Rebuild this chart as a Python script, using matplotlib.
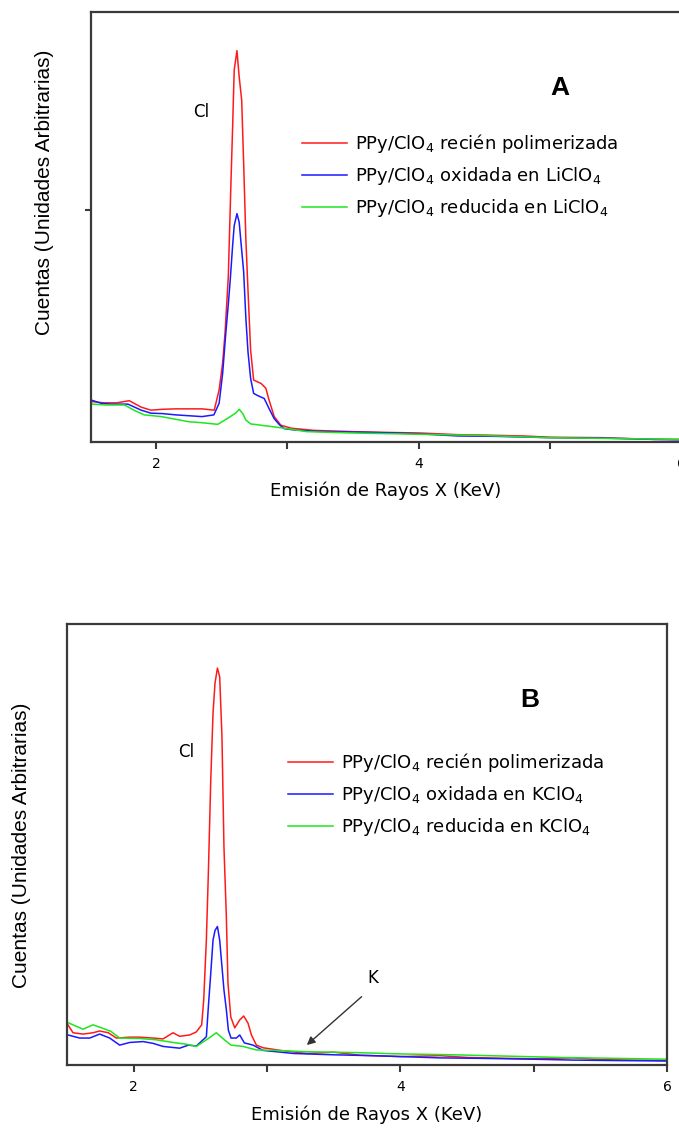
import matplotlib
matplotlib.use("Agg")
import matplotlib.pyplot as plt

# ---- panel A: LiClO4 ----
ev_a_red = [1.51, 1.60, 1.70, 1.795, 1.886, 1.96, 2.05, 2.15, 2.25, 2.35, 2.443, 2.48, 2.507, 2.525,
            2.55, 2.57, 2.583, 2.595, 2.616, 2.633, 2.652, 2.667, 2.684, 2.70, 2.72, 2.743, 2.80,
            2.836, 2.86, 2.90, 2.95, 3.03, 3.20, 3.50, 3.80, 4.00, 4.30, 4.50, 4.80, 5.00, 5.40, 5.80, 6.00]
red_a = [9.3, 9.0, 9.0, 9.5, 8.0, 7.3, 7.5, 7.6, 7.6, 7.6, 7.3, 12.0, 18.3, 25.2,
         38.3, 60.0, 73.2, 86.4, 90.9, 84.8, 79.4, 64.7, 46.9, 35.2, 21.3, 14.3, 13.5,
         12.4, 9.7, 5.8, 3.8, 3.1, 2.6, 2.3, 2.1, 2.0, 1.6, 1.5, 1.3, 1.0, 0.9, 0.5, 0.5]

ev_a_blue = [1.51, 1.58, 1.66, 1.785, 1.886, 1.96, 2.05, 2.15, 2.25, 2.35, 2.44, 2.48, 2.507, 2.53,
             2.55, 2.565, 2.583, 2.595, 2.616, 2.633, 2.646, 2.667, 2.684, 2.70, 2.72, 2.743, 2.773,
             2.824, 2.86, 2.90, 2.94, 2.976, 3.05, 3.20, 3.50, 3.80, 4.00, 4.30, 4.60, 5.00, 5.40, 5.80, 6.00]
blue_a = [9.6, 8.9, 8.7, 8.7, 7.3, 6.6, 6.5, 6.2, 6.0, 5.8, 6.2, 8.9, 15.9, 24.9,
          31.9, 37.7, 45.6, 50.2, 53.0, 51.0, 46.5, 39.5, 28.6, 20.9, 14.7, 11.2, 10.7,
          10.0, 7.7, 5.3, 3.9, 3.0, 2.7, 2.4, 2.2, 2.0, 1.8, 1.3, 1.2, 0.9, 0.8, 0.5, 0.4]

ev_a_green = [1.51, 1.62, 1.76, 1.83, 1.91, 2.04, 2.11, 2.25, 2.34, 2.47, 2.545, 2.61, 2.633, 2.66,
              2.684, 2.72, 2.85, 2.976, 3.15, 3.48, 4.00, 4.50, 5.00, 5.50, 6.00]
green_a = [8.7, 8.5, 8.5, 7.3, 6.2, 5.8, 5.4, 4.6, 4.4, 4.0, 5.4, 6.7, 7.5, 6.5,
           5.0, 4.1, 3.6, 3.1, 2.3, 2.0, 1.7, 1.4, 0.9, 0.7, 0.5]

# ---- panel B: KClO4 ----
ev_b_red = [1.507, 1.545, 1.62, 1.695, 1.745, 1.81, 1.87, 1.97, 2.045, 2.145, 2.22, 2.295, 2.345, 2.42,
            2.47, 2.51, 2.525, 2.545, 2.56, 2.578, 2.595, 2.61, 2.628, 2.645, 2.662, 2.677, 2.695,
            2.707, 2.728, 2.758, 2.795, 2.825, 2.857, 2.883, 2.92, 2.97, 3.10, 3.30, 3.50, 3.70,
            4.00, 4.30, 4.50, 4.80, 5.00, 5.30, 5.50, 6.00]
red_b = [9.1, 7.3, 7.0, 7.3, 7.7, 7.3, 6.1, 6.3, 6.3, 6.1, 5.9, 7.3, 6.5, 6.8,
         7.5, 9.1, 14.7, 28.3, 43.5, 64.6, 79.8, 86.6, 90.0, 88.0, 74.4, 49.4, 33.6,
         18.6, 10.9, 8.4, 10.2, 11.1, 9.5, 6.8, 4.5, 3.9, 3.3, 2.6, 2.9, 2.2,
         1.9, 2.1, 1.7, 1.5, 1.4, 1.6, 1.2, 1.0]

ev_b_blue = [1.507, 1.595, 1.67, 1.745, 1.82, 1.895, 1.97, 2.07, 2.145, 2.22, 2.345, 2.41, 2.47, 2.52,
             2.545, 2.56, 2.578, 2.595, 2.61, 2.628, 2.645, 2.662, 2.677, 2.695, 2.71, 2.73, 2.77,
             2.795, 2.83, 2.895, 2.97, 3.20, 3.50, 3.80, 4.00, 4.30, 4.60, 5.00, 5.30, 5.60, 6.00]
blue_b = [6.8, 6.1, 6.1, 7.0, 6.1, 4.5, 5.1, 5.3, 4.9, 4.2, 3.8, 4.5, 4.3, 5.7,
          6.4, 13.2, 20.8, 28.3, 30.5, 31.4, 28.3, 22.3, 17.0, 12.5, 7.9, 6.1, 6.1,
          6.8, 5.0, 4.5, 3.3, 2.6, 2.3, 2.1, 1.9, 1.6, 1.5, 1.3, 1.1, 1.0, 0.9]

ev_b_green = [1.507, 1.62, 1.695, 1.76, 1.83, 1.895, 2.045, 2.17, 2.295, 2.395, 2.47, 2.545, 2.62, 2.68,
              2.73, 2.82, 2.92, 3.05, 3.295, 3.67, 4.00, 4.40, 4.80, 5.20, 5.60, 6.00]
green_b = [9.6, 8.1, 9.1, 8.4, 7.6, 6.1, 6.0, 5.7, 5.1, 4.7, 4.2, 5.7, 7.3, 5.7,
           4.5, 4.2, 3.4, 3.3, 3.0, 2.8, 2.5, 2.3, 2.0, 1.7, 1.5, 1.3]

labels_a = ["PPy/ClO$_4$ recién polimerizada",
            "PPy/ClO$_4$ oxidada en LiClO$_4$",
            "PPy/ClO$_4$ reducida en LiClO$_4$"]
labels_b = ["PPy/ClO$_4$ recién polimerizada",
            "PPy/ClO$_4$ oxidada en KClO$_4$",
            "PPy/ClO$_4$ reducida en KClO$_4$"]

colors = ["#ff1a1a", "#1a1aff", "#1ee61e"]
spine_col = "#3a3a3a"

fig = plt.figure(figsize=(6.79, 11.31), dpi=100)


def style_axes(ax):
    for s in ax.spines.values():
        s.set_color(spine_col)
        s.set_linewidth(1.6)
    ax.set_xlim(1.5, 6)
    ax.set_ylim(0, 100)
    ax.set_xticks([2, 4, 6])
    ax.set_xticks([3, 5], minor=True)
    ax.tick_params(axis="x", which="both", direction="out", length=5, width=1.5,
                   color=spine_col, labelsize=10, pad=6)
    ax.set_xlabel("Emisión de Rayos X (KeV)", fontsize=13, labelpad=8)


def draw_panel(ax, series, labels, legend_anchor):
    for (xs, ys), c, lab in zip(series, colors, labels):
        ax.plot(xs, ys, color=c, lw=1.1, label=lab)
    ax.legend(loc="upper left", bbox_to_anchor=legend_anchor, bbox_transform=fig.transFigure,
              frameon=False, fontsize=13, handlelength=2.5, handletextpad=0.45,
              labelspacing=0.55, borderpad=0, borderaxespad=0)


# panel A
ax1 = fig.add_axes([0.1333, 0.6096, 0.8697, 0.3802])
style_axes(ax1)
draw_panel(ax1, [(ev_a_red, red_a), (ev_a_blue, blue_a), (ev_a_green, green_a)],
           labels_a, (0.445, 0.883))
ax1.set_yticks([53.8])
ax1.set_yticklabels([])
ax1.tick_params(axis="y", direction="out", length=4, width=1.5, color=spine_col)
ax1.text(2.342, 76.7, "Cl", fontsize=12, ha="center", va="center")
ax1.text(5.08, 82.2, "A", fontsize=19, fontweight="bold", family="Liberation Sans",
         ha="center", va="center")
fig.text(45 / 679, 1 - 192 / 1131, "Cuentas (Unidades Arbitrarias)", rotation=90,
         fontsize=15, family="Liberation Sans", ha="center", va="center")

# panel B
ax2 = fig.add_axes([0.0987, 0.0584, 0.8837, 0.3899])
style_axes(ax2)
draw_panel(ax2, [(ev_b_red, red_b), (ev_b_blue, blue_b), (ev_b_green, green_b)],
           labels_b, (0.424, 0.336))
ax2.set_yticks([])
ax2.text(2.395, 71.0, "Cl", fontsize=12, ha="center", va="center")
ax2.text(4.97, 82.8, "B", fontsize=19, fontweight="bold", family="Liberation Sans",
         ha="center", va="center")
ax2.text(3.79, 19.7, "K", fontsize=12, ha="center", va="center")
ax2.annotate("", xy=(3.283, 4.1), xytext=(3.725, 15.9),
             arrowprops=dict(arrowstyle="-|>", color="#333333", lw=1.0, mutation_scale=12))
fig.text(22 / 679, 1 - 845 / 1131, "Cuentas (Unidades Arbitrarias)", rotation=90,
         fontsize=15, family="Liberation Sans", ha="center", va="center")

fig.savefig("out.png", dpi=100)
